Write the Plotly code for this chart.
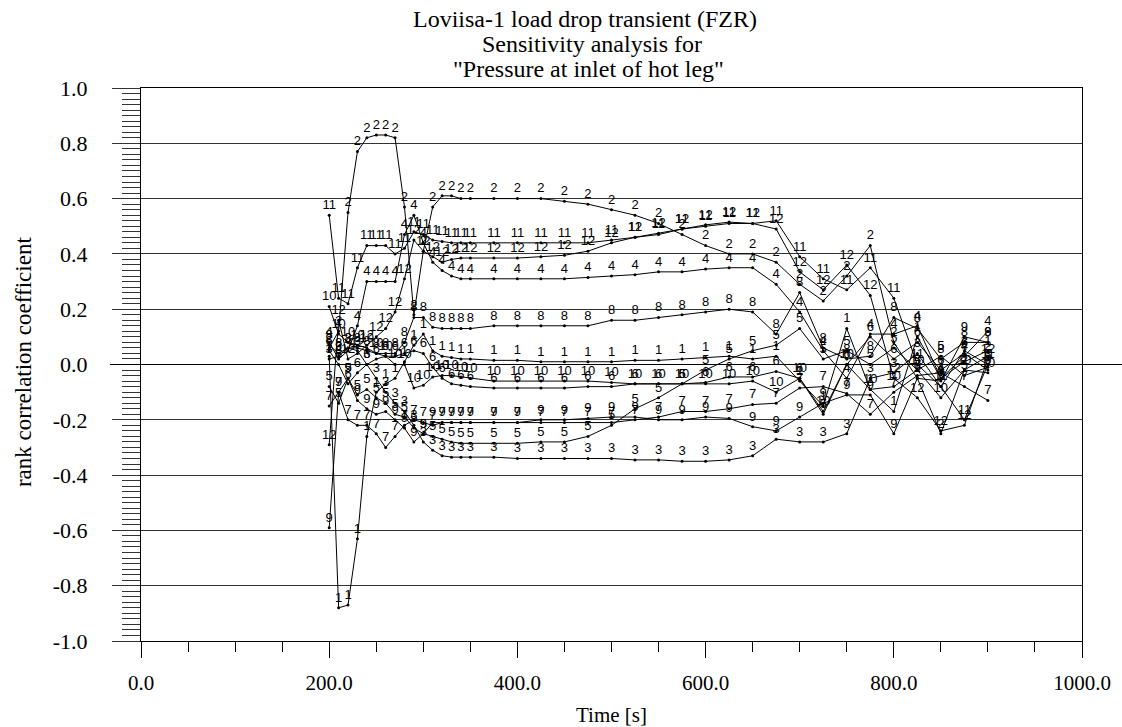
import plotly.graph_objects as go

# Time grid of the sensitivity results [s]
time_s = [200, 210, 220, 230, 240, 250, 260, 270, 280, 290, 300, 310, 320, 330,
          340, 350, 375, 400, 425, 450, 475, 500, 525, 550, 575, 600, 625, 650,
          675, 700, 725, 750, 775, 800, 825, 850, 875, 900]

# Rank correlation coefficient of each input parameter (1..12)
s1 = [0.03, -0.88, -0.87, -0.63, -0.26, -0.10, -0.07, -0.05, 0.01, 0.07, 0.11, 0.05, 0.03, 0.025,
      0.02, 0.02, 0.015, 0.015, 0.01, 0.01, 0.01, 0.01, 0.015, 0.015, 0.02, 0.025, 0.03, 0.02,
      0.03, -0.06, -0.15, 0.13, -0.09, -0.17, 0.10, -0.05, 0.01, 0.05]
s2 = [0.06, 0.12, 0.55, 0.77, 0.82, 0.83, 0.83, 0.82, 0.57, 0.18, 0.41, 0.57, 0.61, 0.61,
      0.60, 0.60, 0.60, 0.60, 0.60, 0.59, 0.58, 0.56, 0.54, 0.51, 0.47, 0.43, 0.40, 0.40,
      0.37, 0.29, 0.23, 0.32, 0.43, 0.08, -0.05, -0.25, -0.02, 0.03]
s3 = [0.02, 0.03, 0.06, 0.05, 0.0, -0.05, -0.10, -0.14, -0.17, -0.22, -0.28, -0.31, -0.33, -0.335,
      -0.335, -0.335, -0.335, -0.34, -0.34, -0.34, -0.34, -0.34, -0.345, -0.345, -0.35, -0.35, -0.345, -0.33,
      -0.27, -0.28, -0.28, -0.25, -0.05, -0.03, 0.04, -0.08, 0.05, 0.0]
s4 = [0.08, 0.02, 0.05, 0.14, 0.30, 0.30, 0.30, 0.30, 0.47, 0.54, 0.44, 0.37, 0.34, 0.32,
      0.31, 0.31, 0.31, 0.31, 0.31, 0.31, 0.315, 0.32, 0.325, 0.335, 0.335, 0.345, 0.35, 0.35,
      0.29, 0.19, 0.05, -0.05, 0.11, 0.11, 0.14, -0.05, 0.03, 0.12]
s5 = [-0.08, -0.14, -0.05, -0.11, -0.09, -0.12, -0.14, -0.18, -0.19, -0.23, -0.25, -0.26, -0.27, -0.28,
      -0.285, -0.285, -0.285, -0.285, -0.28, -0.28, -0.26, -0.22, -0.16, -0.12, -0.07, -0.02, 0.02, 0.05,
      0.07, 0.13, 0.02, 0.05, 0.0, 0.06, -0.02, 0.03, -0.04, -0.01]
s6 = [0.05, 0.0, -0.07, -0.03, 0.0, 0.02, 0.03, 0.03, 0.04, 0.05, 0.04, -0.01, -0.05, -0.07,
      -0.075, -0.08, -0.085, -0.085, -0.085, -0.085, -0.08, -0.08, -0.07, -0.07, -0.07, -0.065, -0.045, -0.045,
      -0.025, -0.05, -0.18, 0.0, 0.10, 0.02, 0.08, -0.02, 0.04, -0.02]
s7 = [-0.15, -0.10, -0.20, -0.22, -0.22, -0.25, -0.30, -0.26, -0.22, -0.20, -0.21, -0.22, -0.21, -0.21,
      -0.21, -0.21, -0.21, -0.21, -0.21, -0.21, -0.21, -0.21, -0.20, -0.19, -0.17, -0.17, -0.16, -0.145,
      -0.14, -0.085, -0.08, -0.105, -0.18, -0.10, -0.04, -0.03, -0.08, -0.13]
s8 = [0.07, 0.04, 0.06, 0.06, 0.05, 0.04, 0.04, 0.04, 0.08, 0.17, 0.17, 0.135, 0.13, 0.13,
      0.13, 0.13, 0.14, 0.14, 0.14, 0.14, 0.14, 0.16, 0.16, 0.17, 0.18, 0.19, 0.20, 0.19,
      0.11, 0.26, 0.06, 0.02, 0.03, 0.17, 0.13, 0.02, 0.08, 0.08]
s9 = [-0.59, -0.10, -0.05, -0.13, -0.16, -0.18, -0.17, -0.20, -0.23, -0.28, -0.25, -0.21, -0.21, -0.21,
      -0.21, -0.21, -0.21, -0.21, -0.20, -0.20, -0.195, -0.19, -0.19, -0.20, -0.20, -0.19, -0.195, -0.225,
      -0.24, -0.19, -0.14, -0.11, -0.11, -0.25, -0.05, -0.06, 0.10, 0.08]
s10 = [0.21, 0.11, 0.08, 0.07, 0.06, 0.04, 0.03, 0.0, 0.0, -0.085, -0.075, -0.045, -0.04, -0.04,
       -0.045, -0.05, -0.06, -0.06, -0.06, -0.06, -0.06, -0.065, -0.07, -0.07, -0.07, -0.07, -0.07, -0.06,
       -0.10, -0.05, -0.17, 0.0, -0.09, -0.08, -0.02, -0.12, -0.02, -0.03]
s11 = [0.54, 0.24, 0.22, 0.35, 0.43, 0.43, 0.43, 0.40, 0.42, 0.48, 0.47, 0.45, 0.445, 0.44,
       0.44, 0.44, 0.44, 0.44, 0.44, 0.44, 0.44, 0.45, 0.46, 0.47, 0.49, 0.50, 0.51, 0.51,
       0.52, 0.39, 0.31, 0.27, 0.35, 0.24, 0.0, -0.08, -0.20, 0.0]
s12 = [-0.29, 0.16, 0.02, 0.04, 0.07, 0.10, 0.13, 0.19, 0.31, 0.45, 0.41, 0.39, 0.37, 0.38,
       0.385, 0.385, 0.385, 0.385, 0.39, 0.395, 0.41, 0.44, 0.46, 0.475, 0.49, 0.505, 0.515, 0.51,
       0.49, 0.335, 0.27, 0.36, 0.25, -0.05, -0.12, -0.24, -0.22, 0.02]

parameters = [s1, s2, s3, s4, s5, s6, s7, s8, s9, s10, s11, s12]

x_ticks = [0, 200, 400, 600, 800, 1000]
x_ticktext = ["0.0", "200.0", "400.0", "600.0", "800.0", "1000.0"]
y_ticks = [1.0, 0.8, 0.6, 0.4, 0.2, 0.0, -0.2, -0.4, -0.6, -0.8, -1.0]
y_ticktext = ["1.0", "0.8", "0.6", "0.4", "0.2", "0.0", "-0.2", "-0.4", "-0.6", "-0.8", "-1.0"]

SERIF = "Liberation Serif"

fig = go.Figure()
for num, values in enumerate(parameters, start=1):
    fig.add_trace(go.Scatter(
        x=time_s, y=values, mode="lines+markers+text",
        text=[str(num)] * len(time_s), textposition="top center",
        textfont=dict(family="Liberation Sans", size=13, color="black"),
        line=dict(color="black", width=1),
        marker=dict(color="black", size=3),
        name=str(num), showlegend=False,
    ))


def label(text, x, y, size, angle=0):
    return dict(text=text, xref="paper", yref="paper", x=x, y=y,
                xanchor="center", yanchor="middle", textangle=angle,
                showarrow=False, font=dict(family=SERIF, size=size, color="black"))


fig.update_layout(
    width=1122, height=727,
    margin=dict(l=141, r=40, t=88, b=86),
    paper_bgcolor="white", plot_bgcolor="white",
    showlegend=False,
    xaxis=dict(
        range=[0, 1000], tickvals=x_ticks, ticktext=x_ticktext,
        ticks="outside", ticklen=16, tickcolor="black", tickwidth=1,
        minor=dict(dtick=50, ticks="outside", ticklen=10, tickcolor="black"),
        showgrid=False, zeroline=False,
        showline=True, linecolor="black", linewidth=1, mirror=True,
        tickfont=dict(family=SERIF, size=21, color="black"),
        ticklabelstandoff=7,
    ),
    yaxis=dict(
        range=[-1, 1], tickvals=y_ticks, ticktext=y_ticktext,
        ticks="outside", ticklen=28, tickcolor="#333", tickwidth=1,
        minor=dict(dtick=0.02, ticks="outside", ticklen=18, tickcolor="#333", showgrid=False),
        showgrid=True, gridcolor="#333", gridwidth=1, zeroline=False,
        showline=True, linecolor="black", linewidth=1, mirror=True,
        tickfont=dict(family=SERIF, size=22, color="black"),
        ticklabelstandoff=20,
    ),
    shapes=[dict(type="line", xref="paper", yref="y", x0=-0.033, x1=1.05, y0=0, y1=0,
                 line=dict(color="black", width=1))],
    annotations=[
        label("Loviisa-1 load drop transient (FZR)", 0.472, 1.124, 24),
        label("Sensitivity analysis for", 0.479, 1.079, 24),
        label("\"Pressure at inlet of hot leg\"", 0.476, 1.034, 24),
        label("Time [s]", 0.5, -0.133, 21),
        label("rank correlation coefficient", -0.125, 0.505, 23, angle=-90),
    ],
)

fig.write_html("out.html")
